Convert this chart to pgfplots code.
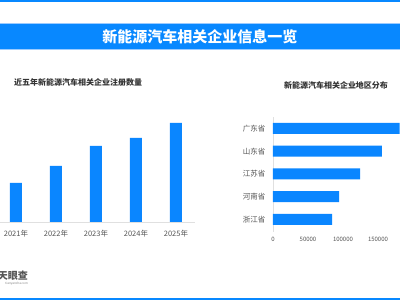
\documentclass[border=0pt]{standalone}
\usepackage{fontspec}
\setmainfont{Noto Sans CJK SC}
\usepackage{pgfplots}
\pgfplotsset{compat=1.18}
\definecolor{barblue}{HTML}{0A86FF}
\definecolor{titleblue}{HTML}{0888FF}
\definecolor{edgeblue}{HTML}{9CCBFF}
\definecolor{tickgray}{HTML}{555555}
\definecolor{titlegray}{HTML}{333333}
\begin{document}
\begin{tikzpicture}[x=1pt,y=1pt]
\path[use as bounding box, clip] (0,0) rectangle (400,300);
\fill[white] (0,0) rectangle (400,300);
\fill[titleblue] (0,298) rectangle (400,300);
\fill[titleblue] (0,0) rectangle (400,2);
\fill[titleblue] (0,250) rectangle (400,277);
\draw[edgeblue, line width=0.8pt] (0,250.4)--(400,250.4) (0,276.6)--(400,276.6);
\node[white, font=\fontsize{15}{15}\selectfont\bfseries] at (200,263) {新能源汽车相关企业信息一览};
\node[anchor=west, text=titlegray, font=\fontsize{8}{8}\selectfont\bfseries, inner sep=0pt] at (14,218) {近五年新能源汽车相关企业注册数量};
\node[text=titlegray, font=\fontsize{8}{8}\selectfont\bfseries, inner sep=0pt] at (336,215) {新能源汽车相关企业地区分布};
\node[anchor=east, text=tickgray, font=\fontsize{10}{10}\selectfont\bfseries, inner sep=0pt] at (28,24) {天眼查};
\node[anchor=east, text=gray, font=\fontsize{3}{3}\selectfont, inner sep=0pt] at (28,16.5) {tianyancha.com};
\begin{axis}[
  at={(0pt,78pt)}, anchor=south west, scale only axis,
  width=195pt, height=110pt,
  xmin=-0.4, xmax=4.475, ymin=0, ymax=110,
  axis x line=bottom, axis y line=none,
  x axis line style={-, draw=black!12},
  xtick={0,1,2,3,4},
  xticklabels={2021年,2022年,2023年,2024年,2025年},
  major tick length=0pt,
  ytick=\empty,
  xticklabel style={text=tickgray, font=\fontsize{7.5}{7.5}\selectfont, yshift=-5pt},
  ybar, bar width=12pt,
]
\addplot[fill=barblue, draw=none] coordinates {(0,39) (1,56) (2,76) (3,84) (4,99)};
\end{axis}
\begin{axis}[
  at={(273pt,68pt)}, anchor=south west, scale only axis,
  width=147pt, height=115pt,
  xmin=0, xmax=210000, ymin=-0.55, ymax=4.5,
  axis y line=left, axis x line=bottom,
  y axis line style={-, draw=black!12},
  x axis line style={-, draw=none},
  xtick={0,50000,100000,150000},
  scaled x ticks=false,
  xticklabel={\pgfmathprintnumber[fixed,1000 sep={}]{\tick}},
  ytick={0,1,2,3,4},
  yticklabels={浙江省,河南省,江苏省,山东省,广东省},
  major tick length=0pt,
  xticklabel style={text=tickgray, font=\fontsize{6}{6}\selectfont, yshift=-2pt},
  yticklabel style={text=tickgray, font=\fontsize{7.5}{7.5}\selectfont, xshift=-4pt},
  /pgf/number format/assume math mode=true,
  xbar, bar width=11pt,
]
\addplot[fill=barblue, draw=none] coordinates {(84300,0) (94300,1) (124300,2) (155700,3) (181000,4)};
\end{axis}
\end{tikzpicture}
\end{document}
